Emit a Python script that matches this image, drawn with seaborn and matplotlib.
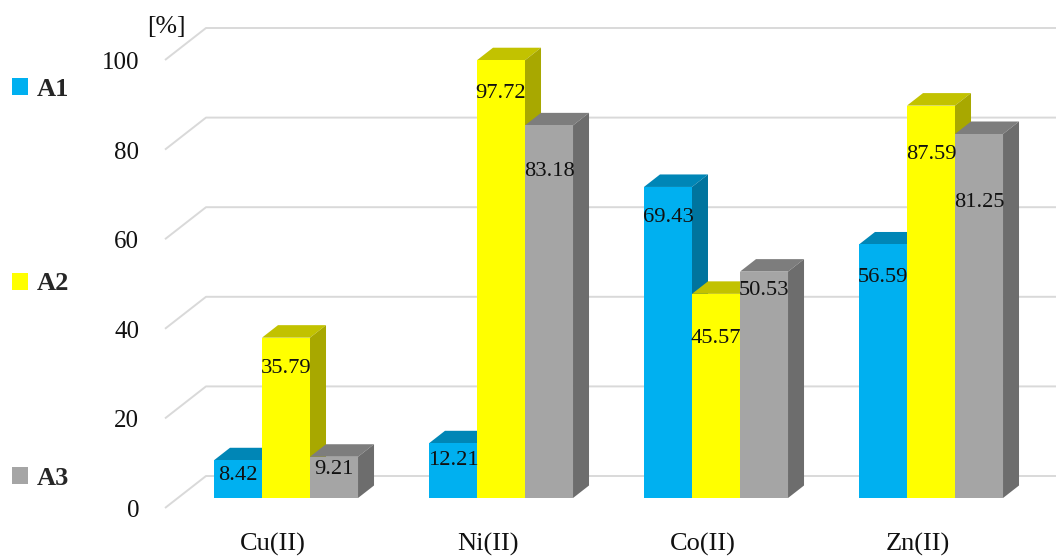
import matplotlib
matplotlib.use("Agg")
import matplotlib.pyplot as plt
import numpy as np
import pandas as pd
import seaborn as sns
from matplotlib.colors import to_rgb
from matplotlib.patches import Polygon
from matplotlib.transforms import ScaledTranslation

# Measured removal percentages per metal ion and adsorbent
metals = ["Cu(II)", "Ni(II)", "Co(II)", "Zn(II)"]
a1_values = [8.42, 12.21, 69.43, 56.59]
a2_values = [35.79, 97.72, 45.57, 87.59]
a3_values = [9.21, 83.18, 50.53, 81.25]
series_names = ["A1", "A2", "A3"]
y_ticks = [0, 20, 40, 60, 80, 100]

# Styling
series_colors = ["#00B0F0", "#FFFF00", "#A5A5A5"]
# Distance of each value label below its bar top, in pixels, per metal then series
label_drop = [[15, 31, 13], [17, 33, 46], [31, 45, 19], [33, 49, 69]]

WIDTH, HEIGHT, DPI = 1056, 558, 100
FONT = "Liberation Serif"
INK = "#111111"
sns.set_theme(style="white", rc={"font.family": FONT})

fig = plt.figure(figsize=(WIDTH / DPI, HEIGHT / DPI), dpi=DPI, facecolor="white")
left_px, right_px, top_px, bottom_px = 165, 1056, 20, 515
ax = fig.add_axes([left_px / WIDTH, 1 - bottom_px / HEIGHT,
                   (right_px - left_px) / WIDTH, (bottom_px - top_px) / HEIGHT])

frame = pd.DataFrame({
    "metal": metals * 3,
    "series": np.repeat(series_names, len(metals)),
    "value": a1_values + a2_values + a3_values,
})
sns.barplot(data=frame, x="metal", y="value", hue="series", palette=series_colors,
            width=0.67, gap=0, saturation=1, errorbar=None, ax=ax, linewidth=0)

# Axis scales: pixels per category step and per percentage point
PX_X, PX_Y = 215.0, 4.48
ax.set_xlim((left_px - 286) / PX_X, (right_px - 286) / PX_X)
ax.set_ylim((498 - bottom_px) / PX_Y, (498 - top_px) / PX_Y)


def shade(color, factor):
    return tuple(c * factor for c in to_rgb(color))


# Receding wall gridlines
wall_dx, wall_front, wall_back = 41 / PX_X, -10 / PX_Y, 22 / PX_Y
x0 = ax.get_xlim()[0]
for tick in y_ticks:
    ax.plot([x0, x0 + wall_dx, ax.get_xlim()[1]],
            [tick + wall_front, tick + wall_back, tick + wall_back],
            color="#D9D9D9", lw=1.4, zorder=1, solid_capstyle="butt", clip_on=False)

# Extrude every bar: top and side faces, painted left to right inside each group
depth_x, depth_y = 16 / PX_X, 12.5 / PX_Y
for s_idx, (container, color) in enumerate(zip(ax.containers, series_colors)):
    order = 3 + 2 * s_idx
    for m_idx, bar in enumerate(container):
        x, w, h = bar.get_x(), bar.get_width(), bar.get_height()
        bar.set_zorder(order + 1)
        ax.add_patch(Polygon([(x, h), (x + w, h), (x + w + depth_x, h + depth_y),
                              (x + depth_x, h + depth_y)],
                             closed=True, fc=shade(color, 0.76), ec="none", zorder=order))
        ax.add_patch(Polygon([(x + w, 0), (x + w + depth_x, depth_y),
                              (x + w + depth_x, h + depth_y), (x + w, h)],
                             closed=True, fc=shade(color, 0.66), ec="none", zorder=order))
        ax.text(x + w / 2, h - label_drop[m_idx][s_idx] / PX_Y, f"{h:.2f}",
                ha="center", va="center", fontsize=16.2, family=FONT,
                color=INK, zorder=20)

# Axes furniture
ax.set_xlabel("")
ax.set_ylabel("")
ax.set_yticks(y_ticks)
ax.grid(False)
sns.despine(ax=ax, left=True, bottom=True)
ax.tick_params(axis="y", length=0, pad=18.7, labelsize=18, labelcolor=INK)
ax.tick_params(axis="x", length=0, pad=13, labelsize=19, labelcolor=INK)
for label in ax.get_yticklabels():
    label.set_family(FONT)
    label.set_transform(label.get_transform()
                        + ScaledTranslation(0, -10.5 / DPI, fig.dpi_scale_trans))
for label in ax.get_xticklabels():
    label.set_family(FONT)
    label.set_transform(label.get_transform()
                        + ScaledTranslation(-13 / DPI, 0, fig.dpi_scale_trans))

fig.text(166 / WIDTH, 1 - 27 / HEIGHT, "[%]", ha="center", va="center",
         fontsize=18.5, family=FONT, color=INK)

# Legend stacked down the left margin
handles, labels = ax.get_legend_handles_labels()
ax.get_legend().remove()
fig.legend(handles, labels, loc="upper left", bbox_to_anchor=(4 / WIDTH, 1 - 70 / HEIGHT),
           frameon=False, handlelength=0.62, handleheight=0.62, handletextpad=0.33,
           labelspacing=6.5, borderpad=0.3, borderaxespad=0,
           prop={"family": FONT, "weight": "bold", "size": 19})

fig.savefig("out.png", dpi=DPI, facecolor="white")
